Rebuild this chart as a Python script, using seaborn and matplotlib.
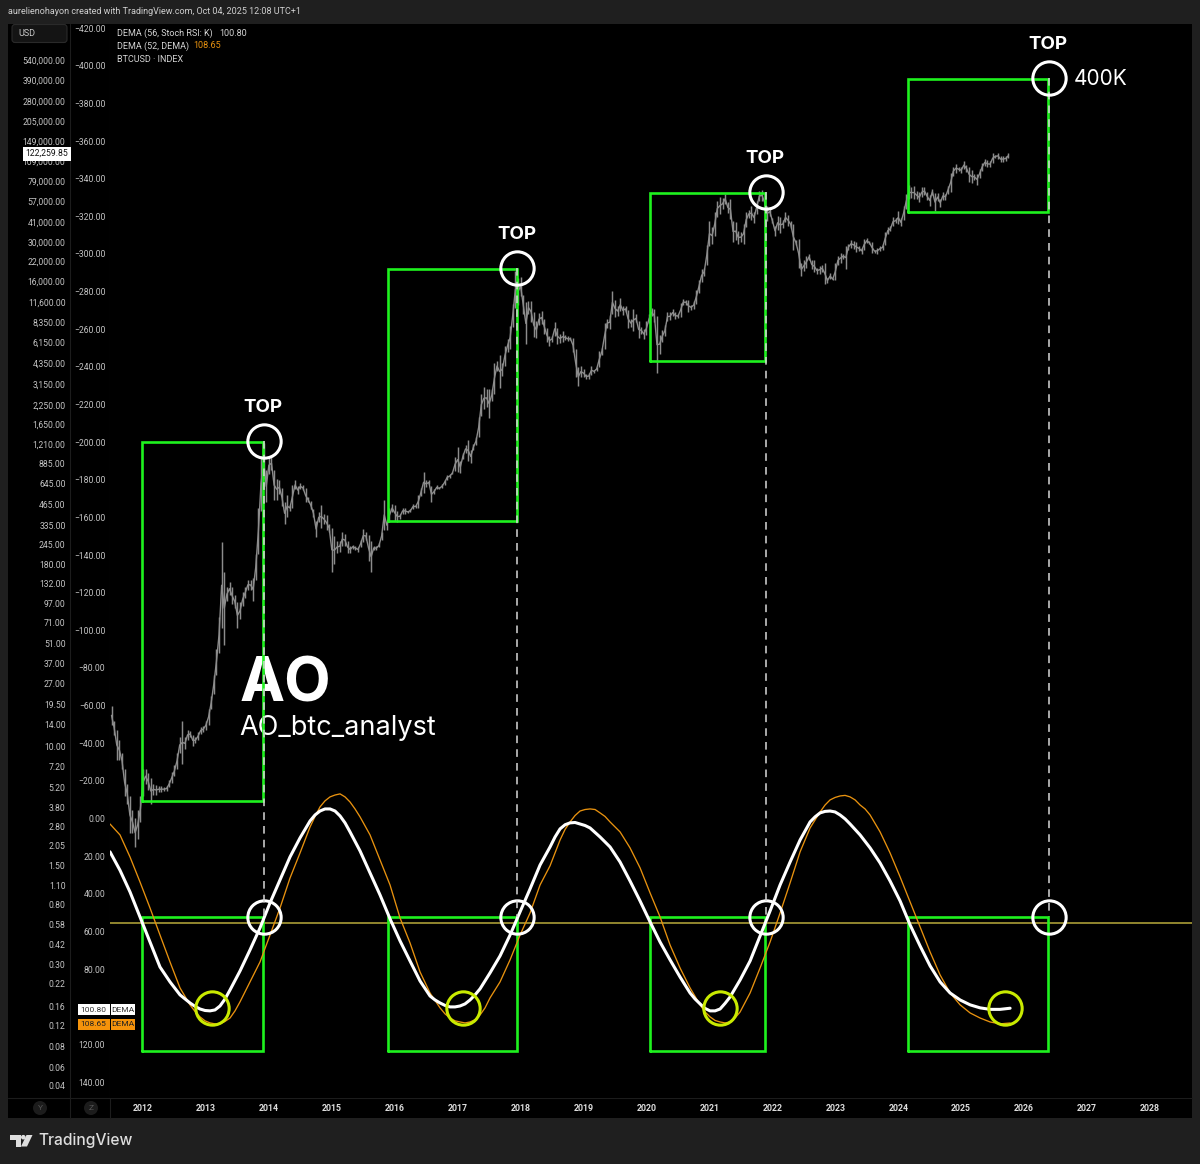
import numpy as np
import pandas as pd
import matplotlib
matplotlib.use("Agg")
import matplotlib.pyplot as plt
from matplotlib.patches import Rectangle, Circle, Polygon, FancyBboxPatch
from matplotlib.lines import Line2D
from matplotlib.transforms import Affine2D
import seaborn as sns

W, H = 1200, 1164

# ---------- BTCUSD half-monthly high / low, starting July 2011 ----------
high_2011 = [19, 15, 13, 11, 9, 7, 5.5, 4.5, 3.6, 3.2, 3.6, 4.5]
low_2011 = [14, 12, 8, 8, 7, 4.5, 4, 2.5, 2.5, 2.0, 2.3, 3.0]
high_2012 = [7, 7, 6.5, 6, 5.5, 5.4, 5.3, 5.3, 5.2, 5.3, 5.8, 6.6, 7.4, 9, 11.5, 15, 11.5, 13, 12.8, 12, 11.5, 12.5, 13.5, 13.7]
low_2012 = [4.5, 5.5, 5, 4, 4.6, 4.6, 4.8, 4.8, 4.9, 4.9, 5.2, 5.6, 6.2, 7, 9, 7.5, 9.5, 11, 11.5, 10, 10.5, 11, 12.2, 12.5]
high_2013 = [15, 18, 22, 31, 47, 78, 255, 160, 125, 135, 125, 110, 98, 98, 115, 125, 140, 140, 145, 210, 440, 1000, 1230, 800]
low_2013 = [13, 14, 18, 23, 31, 44, 65, 50, 100, 110, 95, 90, 65, 75, 92, 105, 120, 120, 100, 140, 210, 420, 700, 480]
high_2014 = [1000, 1000, 800, 700, 680, 600, 480, 540, 460, 630, 680, 620, 650, 630, 600, 520, 490, 430, 360, 410, 460, 400, 390, 340]
low_2014 = [750, 800, 500, 500, 550, 450, 340, 380, 420, 440, 590, 550, 590, 580, 480, 480, 430, 380, 275, 350, 320, 340, 310, 300]
high_2015 = [320, 280, 260, 260, 300, 290, 260, 240, 245, 240, 235, 265, 315, 300, 285, 260, 240, 240, 250, 300, 500, 360, 440, 470]
low_2015 = [160, 180, 215, 220, 240, 240, 215, 215, 230, 225, 220, 235, 255, 265, 190, 158, 225, 225, 235, 265, 310, 310, 350, 410]
high_2016 = [460, 420, 400, 440, 440, 420, 430, 470, 460, 540, 600, 780, 680, 680, 620, 590, 630, 610, 640, 690, 740, 750, 780, 980]
low_2016 = [360, 350, 370, 400, 400, 405, 415, 430, 440, 440, 530, 560, 610, 640, 480, 550, 590, 590, 600, 630, 690, 710, 750, 790]
high_2017 = [1150, 930, 1050, 1200, 1290, 1100, 1220, 1350, 1850, 2700, 3000, 2900, 2900, 2900, 4400, 4500, 4980, 4400, 5800, 6400, 7900, 11300, 19000, 17000]
low_2017 = [780, 760, 950, 1050, 930, 900, 1100, 1200, 1350, 1900, 2100, 2200, 1830, 2400, 2700, 3900, 2950, 3600, 4200, 5200, 5500, 7800, 10500, 11000]
high_2018 = [17300, 13000, 11500, 11800, 11700, 9800, 8500, 9700, 10000, 8800, 7700, 6800, 6800, 8400, 7700, 7000, 7300, 6900, 6700, 6600, 6500, 5500, 4100, 4200]
low_2018 = [12800, 9500, 5900, 9500, 8400, 6600, 6500, 8000, 8200, 7000, 6100, 5800, 6100, 6800, 5900, 6000, 6100, 6300, 6200, 6300, 5200, 3500, 3050, 3500]
high_2019 = [4000, 3700, 3750, 4200, 3950, 4100, 5300, 5600, 8300, 8900, 9400, 13800, 12000, 10800, 12300, 10900, 10900, 10200, 8800, 10300, 9500, 8600, 7800, 7500]
low_2019 = [3500, 3400, 3400, 3650, 3750, 3900, 4100, 5000, 5500, 7700, 7500, 9600, 9100, 9300, 10000, 9400, 9900, 7700, 7800, 7300, 8400, 6500, 7000, 6450]
high_2020 = [8500, 9500, 10500, 10300, 9200, 6900, 7400, 8000, 9900, 9800, 10300, 9800, 9500, 11400, 12100, 12000, 12000, 11100, 11700, 14000, 16500, 19400, 19900, 28500]
low_2020 = [6900, 8300, 9200, 8400, 3750, 5100, 6100, 6700, 8500, 8700, 9300, 8900, 9000, 9100, 11000, 11100, 9900, 10200, 10400, 11300, 13300, 16000, 17600, 21000]
high_2021 = [42000, 38000, 48000, 58000, 61000, 60000, 64800, 57000, 59000, 42000, 41000, 36000, 35000, 40000, 48000, 50000, 52900, 48000, 58000, 67000, 69000, 60000, 53000, 52000]
low_2021 = [28000, 29000, 33000, 45000, 47000, 50500, 55000, 47500, 43000, 30000, 31000, 29000, 30000, 29300, 38000, 44000, 42800, 40800, 47000, 57500, 58000, 53500, 42000, 45500]
high_2022 = [44000, 39000, 45500, 45000, 42500, 48000, 46000, 42000, 40000, 31000, 31500, 21500, 22500, 24000, 25000, 22500, 22500, 20000, 20500, 21000, 21400, 17000, 18300, 17000]
low_2022 = [40500, 33000, 36500, 34500, 37500, 41000, 39000, 37500, 26500, 28500, 20000, 17500, 18800, 20000, 22500, 19600, 18500, 18200, 18200, 18700, 15500, 15600, 16700, 16300]
high_2023 = [21500, 24000, 25200, 25000, 28000, 29000, 31000, 30500, 29800, 28400, 27500, 31400, 31800, 30400, 30000, 26500, 27400, 28000, 28500, 35200, 38000, 38500, 44700, 44000]
low_2023 = [16400, 21000, 21500, 23000, 19600, 26500, 27500, 27000, 25800, 26000, 24800, 26500, 29500, 29000, 25200, 25400, 24900, 26000, 26600, 28500, 34000, 35500, 38500, 40300]
high_2024 = [49000, 43800, 52800, 64000, 73800, 71500, 72700, 67000, 66000, 71900, 71900, 66000, 63000, 70000, 65500, 65000, 59800, 66500, 64400, 73600, 90000, 99500, 104000, 99000]
low_2024 = [40000, 38500, 42300, 50500, 59000, 60800, 59600, 59500, 56500, 61000, 63400, 58400, 53500, 63500, 49000, 57800, 52500, 58500, 58900, 64500, 66800, 86000, 90500, 92000]
high_2025 = [99000, 109000, 102500, 99500, 94000, 88500, 88500, 95000, 105000, 112000, 110000, 108000, 123000, 120000, 124400, 117000, 117000, 117500, 123000]
low_2025 = [89200, 95000, 91200, 78000, 76600, 81000, 74500, 83000, 93300, 101000, 98200, 99000, 105000, 114000, 111900, 107300, 107500, 109000, 114000]
price_start = 2011.5

# ---------- Stochastic-RSI DEMA lines, read every 0.159 year from 2011.476 ----------
dema_white = [17.7, 27.5, 39.0, 52.3, 65.6, 78.9, 86.8, 93.7, 98.0, 101.2, 102.2, 99.6, 91.1, 81.0, 69.8, 58.1, 44.8, 32.6, 20.4, 10.3,
              1.3, -4.0, -5.1, -1.4, 7.1, 17.2, 28.9, 40.6, 53.3, 65.0, 75.7, 86.3, 94.3, 98.0, 100.1, 99.6, 96.4, 90.5, 82.0, 73.0,
              61.9, 49.6, 37.4, 24.7, 15.1, 5.5, 2.3, 2.9, 5.0, 9.8, 15.1, 23.1, 33.2, 43.8, 54.9, 65.6, 75.1, 84.2, 92.7, 98.5,
              102.2, 101.2, 94.8, 85.8, 75.7, 62.4, 49.1, 35.3, 23.1, 11.4, 1.8, -3.0, -4.0, -1.9, 2.9, 8.7, 15.6, 23.6, 33.2, 43.8,
              56.5, 67.7, 78.3, 86.8, 92.7, 96.4, 99.0, 100.6, 101.4, 101.4, 100.8]
dema_orange = [2.9, 8.7, 20.4, 33.7, 47.5, 61.9, 76.2, 90.0, 99.0, 105.4, 108.6, 109.1, 106.0, 97.4, 86.8, 76.2, 61.9, 47.5, 31.6, 18.3,
               4.5, -6.2, -11.5, -13.1, -8.8, -0.9, 8.7, 22.0, 35.3, 52.8, 66.1, 81.5, 92.7, 100.6, 106.0, 108.1, 108.1, 104.4, 95.3, 86.8,
               75.1, 61.9, 50.2, 35.3, 25.1, 11.4, 1.8, -4.0, -5.1, -3.0, 1.8, 7.1, 15.6, 26.2, 39.5, 52.3, 67.2, 79.4, 90.0, 99.0,
               105.4, 108.1, 108.1, 102.8, 92.7, 79.4, 65.6, 50.2, 34.2, 17.7, 5.0, -3.5, -9.9, -12.0, -11.5, -7.2, -1.9, 7.1, 18.3, 31.0,
               44.3, 57.6, 70.9, 83.1, 92.7, 99.0, 103.3, 106.0, 108.1, 109.1, 108.65]
# extra readings around the turning points (sample number, value)
white_extra_k = [8.5, 9.5, 10.5, 11.5, 20.5, 21.5, 22.5, 23.5, 32.5, 33.5, 34.5, 35.5, 36.5, 44.5, 45.5, 46.5, 47.5,
                 58.5, 59.5, 60.5, 61.5, 70.5, 71.5, 72.5, 73.5]
white_extra_v = [99.8, 102.0, 101.7, 95.9, -1.9, -5.1, -4.0, 2.3, 96.4, 99.3, 100.1, 98.5, 93.7, 9.8, 3.3, 2.1, 3.7,
                 95.9, 100.9, 102.2, 98.2, -0.9, -3.8, -3.5, 0.2]
orange_extra_k = [8.5, 9.5, 10.5, 11.5, 12.5, 20.5, 21.5, 22.5, 23.5, 24.5, 33.5, 34.5, 35.5, 36.5, 37.5,
                  45.5, 46.5, 47.5, 48.5, 49.5, 59.5, 60.5, 61.5, 62.5, 71.5, 72.5, 73.5, 74.5, 75.5]
orange_extra_v = [102.5, 107.5, 109.1, 107.8, 102.2, -1.1, -9.4, -12.5, -11.5, -5.1, 103.8, 107.5, 108.6, 106.9, 100.6,
                  5.8, -1.6, -4.8, -4.8, -1.1, 102.8, 107.3, 108.6, 106.0, -7.2, -11.2, -12.3, -9.9, -5.1]
dema_start = 2011.476
dema_step = 0.1589

# ---------- Annotations ----------
cycle_start = [2011.984, 2015.893, 2020.056, 2024.155]
cycle_end = [2013.907, 2017.942, 2021.883, 2026.379]
box_top_price = [1255, 19590, 65300, 400000]
box_bottom_price = [4.20, 357, 4540, 48500]
osc_box_top = 52.3
osc_box_bottom = 123.5
osc_level = 55.5
top_years = [2013.923, 2017.950, 2021.899, 2026.395]
top_prices = [1272, 19900, 66400, 405000]
bottom_years = [2013.096, 2017.084, 2021.168, 2025.695]
bottom_values = [100.6, 100.6, 100.6, 100.6]
top_label_prices = [2170, 33900, 113000, 695000]

# ---------- Axis labels ----------
year_ticks = list(range(2012, 2029))
osc_ticks = [v for v in range(-420, 141, 20) if v != 100]
price_labels = ["540,000.00", "390,000.00", "280,000.00", "205,000.00", "149,000.00", "109,000.00", "79,000.00",
                "57,000.00", "41,000.00", "30,000.00", "22,000.00", "16,000.00", "11,600.00", "8,350.00", "6,150.00",
                "4,350.00", "3,150.00", "2,250.00", "1,650.00", "1,210.00", "885.00", "645.00", "465.00", "335.00",
                "245.00", "180.00", "132.00", "97.00", "71.00", "51.00", "37.00", "27.00", "19.50", "14.00", "10.00",
                "7.20", "5.20", "3.80", "2.80", "2.05", "1.50", "1.10", "0.80", "0.58", "0.42", "0.30", "0.22", "0.16",
                "0.12", "0.08", "0.06", "0.04"]
price_ticks = [540000, 390000, 280000, 205000, 149000, 109000, 79000, 57000, 41000, 30000, 22000, 16000, 11600,
               8350, 6150, 4350, 3150, 2250, 1650, 1210, 885, 645, 465, 335, 245, 180, 132, 97, 71, 51, 37, 27, 19.5,
               14, 10, 7.2, 5.2, 3.8, 2.8, 2.05, 1.5, 1.1, 0.803, 0.593, 0.426, 0.314, 0.229, 0.161, 0.1176, 0.0842, 0.0611, 0.0453]

# ---------- Colours ----------
BG = "#1f1f1f"
PANEL = "#000000"
SEP = "#1c1c1c"
GREEN = "#1ef21e"
ORANGE = "#e8920f"
YELLOW = "#c9ea00"
LEVEL = "#b9aa3c"
GRAY = "#8c8c8c"
TXT = "#c4c4c4"

FONT = "Roboto"
sns.set_theme(style="dark", rc={"axes.grid": False})
plt.rcParams["font.family"] = [FONT, "DejaVu Sans"]

fig = plt.figure(figsize=(W / 100, H / 100), dpi=100, facecolor=BG)
PX = Affine2D().scale(1, -1).translate(0, H)  # figure pixels, y downwards


def ft(x, y, s, **kw):
    kw.setdefault("transform", PX)
    kw.setdefault("va", "center")
    return fig.text(x, y, s, **kw)


def rect(x0, y0, x1, y1, color, z=-1):
    fig.add_artist(Rectangle((x0, y0), x1 - x0, y1 - y0, facecolor=color, edgecolor="none", transform=PX, zorder=z))


def line(x0, y0, x1, y1, color=SEP, lw=0.8):
    fig.add_artist(Line2D([x0, x1], [y0, y1], color=color, lw=lw, transform=PX, zorder=-0.5))


rect(8, 24, 1192, 1118, PANEL)
line(70, 24, 70, 1118)
line(110, 24, 110, 1118)
line(8, 1098, 1192, 1098)

L, R, T, B = 110, 1192, 24, 1098
ax = fig.add_axes([L / W, 1 - B / H, (R - L) / W, (B - T) / H], facecolor=PANEL)
OSC_LIM = (148.5, -422.2)
PRICE_LIM = (0.0374, 957700)
ax.set_xlim(2011.476, 2028.667)
ax.set_ylim(*OSC_LIM)
ax2 = ax.twinx()
ax2.set_yscale("log")
ax2.set_ylim(*PRICE_LIM)
ax2.patch.set_visible(False)
for a in (ax, ax2):
    for sp in a.spines.values():
        sp.set_visible(False)

# Oscillator scale
ax.set_yticks(osc_ticks)
ax.set_yticklabels([f"{v:.2f}".replace("-", "\u2212") for v in osc_ticks], fontsize=6.2, color=TXT)
ax.tick_params(axis="y", length=0, pad=3.4)
ax.set_xticks(year_ticks)
ax.set_xticklabels([str(y) for y in year_ticks], fontsize=6.3, color="#dddddd", fontweight="bold")
ax.tick_params(axis="x", length=0, pad=4.2)

# Price scale
ax2.yaxis.set_ticks_position("left")
ax2.set_yticks(price_ticks)
ax2.set_yticklabels(price_labels, fontsize=6.2, color=TXT)
ax2.minorticks_off()
ax2.tick_params(axis="y", length=0, pad=32, which="both")

# Price marks
highs = np.array(high_2011 + high_2012 + high_2013 + high_2014 + high_2015 + high_2016 + high_2017
                 + high_2018 + high_2019 + high_2020 + high_2021 + high_2022 + high_2023 + high_2024 + high_2025, float)
lows = np.array(low_2011 + low_2012 + low_2013 + low_2014 + low_2015 + low_2016 + low_2017
                + low_2018 + low_2019 + low_2020 + low_2021 + low_2022 + low_2023 + low_2024 + low_2025, float)
n = min(len(highs), len(lows))
price = pd.DataFrame({"t": price_start + np.arange(n) / 24, "high": highs[:n], "low": lows[:n]})
price["mid"] = np.sqrt(price.high * price.low)
ax2.vlines(price.t, price.low, price.high, color=GRAY, lw=1.05, zorder=2)
sns.lineplot(data=price, x="t", y="mid", ax=ax2, color=GRAY, lw=1.0, estimator=None, sort=False, errorbar=None, zorder=2)


def dema_frame(base, extra_k, extra_v):
    k = np.concatenate([np.arange(len(base), dtype=float), extra_k])
    v = np.concatenate([base, extra_v])
    order = np.argsort(k)
    return pd.DataFrame({"t": dema_start + k[order] * dema_step, "v": v[order]})


# Oscillator marks
ax.axhline(osc_level, color=LEVEL, lw=1.1, zorder=1)
sns.lineplot(data=dema_frame(dema_orange, orange_extra_k, orange_extra_v), x="t", y="v", ax=ax, color=ORANGE, lw=0.95,
             estimator=None, sort=False, errorbar=None, zorder=3, solid_joinstyle="round")
sns.lineplot(data=dema_frame(dema_white, white_extra_k, white_extra_v), x="t", y="v", ax=ax, color="white", lw=2.2,
             estimator=None, sort=False, errorbar=None, zorder=4, solid_joinstyle="round")
ax.set_xlabel(""); ax.set_ylabel(""); ax2.set_xlabel(""); ax2.set_ylabel("")

# Cycle boxes
for s, e, top, bot in zip(cycle_start, cycle_end, box_top_price, box_bottom_price):
    ax2.plot([s, s, e, e, s], [bot, top, top, bot, bot], color=GREEN, lw=1.9, zorder=3, solid_joinstyle="miter")
    ax.plot([s, s, e, e, s], [osc_box_bottom, osc_box_top, osc_box_top, osc_box_bottom, osc_box_bottom],
            color=GREEN, lw=1.9, zorder=2, solid_joinstyle="miter")

# Dashed verticals, from each top down to the oscillator box
for x, p in zip(top_years, top_prices):
    low_end = ax2.transData.inverted().transform(ax.transData.transform((x, osc_box_top)))[1]
    ax2.plot([x, x], [p, low_end], color="#d8d8d8", lw=1.1, ls=(0, (5, 4)), zorder=3.5)

# Circles
ax2.plot(top_years, top_prices, ls="none", marker="o", ms=24, mfc="none", mec="white", mew=2.2, zorder=6)
ax.plot(top_years, [osc_box_top] * 4, ls="none", marker="o", ms=24, mfc="none", mec="white", mew=2.2, zorder=6)
ax.plot(bottom_years, bottom_values, ls="none", marker="o", ms=24, mfc="none", mec=YELLOW, mew=2.2, zorder=6)
ax2.set_ylim(*PRICE_LIM)
ax.set_ylim(*OSC_LIM)

# TOP labels
for x, p in zip(top_years, top_label_prices):
    ax2.text(x - 0.01, p, "TOP", color="white", fontsize=13.5, fontweight="bold", family="Inter", ha="center", va="center", zorder=7)
ft(1074, 79, "400K", color="white", fontsize=15, family="Inter")

# Watermark below the boxes
ax.text(240, 686, "AO", transform=PX, color="white", fontsize=43.5, fontweight="bold", family="Inter", va="center", zorder=1.5)
ax.text(239.5, 728, "AO_btc_analyst", transform=PX, color="white", fontsize=19.5, family="Inter", va="center", zorder=1.5)

# Header / legend
ft(8, 12, "aurelienohayon created with TradingView.com, Oct 04, 2025 12:08 UTC+1", color="#cfcfcf", fontsize=6.5)
ft(117, 33, "DEMA (56, Stoch RSI: K)", color="#d4d4d4", fontsize=6.5)
ft(219, 33, "100.80", color="#d4d4d4", fontsize=6.5)
ft(117, 46, "DEMA (52, DEMA)", color="#d4d4d4", fontsize=6.5)
ft(193, 46, "108.65", color=ORANGE, fontsize=6.5)
ft(117, 59, "BTCUSD \u00b7 INDEX", color="#d4d4d4", fontsize=6.5)
fig.add_artist(FancyBboxPatch((12, 24.5), 55, 18, boxstyle="round,pad=0,rounding_size=3", facecolor="#141414",
                              edgecolor="#2a2a2a", lw=0.8, transform=PX, zorder=5))
ft(18, 33.5, "USD", color="#c8c8c8", fontsize=6.5, zorder=6)

# Last-price label
ax2.text((47 - L) / (R - L), 122259.85, "122,259.85", transform=ax2.get_yaxis_transform(), color="#111111",
         fontsize=6.2, ha="center", va="center", clip_on=False, zorder=8,
         bbox=dict(boxstyle="square,pad=0.28", fc="white", ec="none"))

# DEMA value tags
rect(78, 1004, 109.5, 1015, "#ffffff", z=5)
rect(110.5, 1004, 135, 1015, "#ffffff", z=5)
rect(78, 1019, 109.5, 1030, "#f5930b", z=5)
rect(110.5, 1019, 135, 1030, "#f5930b", z=5)
ft(93.5, 1009.5, "100.80", color="#333333", fontsize=6, ha="center", zorder=6)
ft(122.5, 1009.5, "DEMA", color="#333333", fontsize=6, ha="center", zorder=6)
ft(93.5, 1024.5, "108.65", color="#222222", fontsize=6, ha="center", zorder=6)
ft(122.5, 1024.5, "DEMA", color="#222222", fontsize=6, ha="center", zorder=6)

# Y / Z buttons
for cx, s in [(40, "Y"), (91, "Z")]:
    fig.add_artist(Circle((cx, 1108), 7, facecolor="#1c1c1c", edgecolor="none", transform=PX, zorder=5))
    ft(cx, 1108.5, s, color="#555555", fontsize=6, ha="center", zorder=6)

# TradingView logo
LOGO = "#dedede"
rect(10, 1135, 20.5, 1139.5, LOGO, z=5)
rect(15.5, 1139.5, 20.5, 1146.5, LOGO, z=5)
fig.add_artist(Circle((23.3, 1137.2), 2.3, facecolor=LOGO, edgecolor="none", transform=PX, zorder=5))
fig.add_artist(Polygon([(26.5, 1135), (32.5, 1135), (27, 1146.5), (21, 1146.5)], closed=True, facecolor=LOGO, edgecolor="none", transform=PX, zorder=5))
ft(38, 1141, "TradingView", color=LOGO, fontsize=11.2, family="Inter", fontweight="medium")

fig.savefig("out.png", dpi=100, facecolor=BG)
